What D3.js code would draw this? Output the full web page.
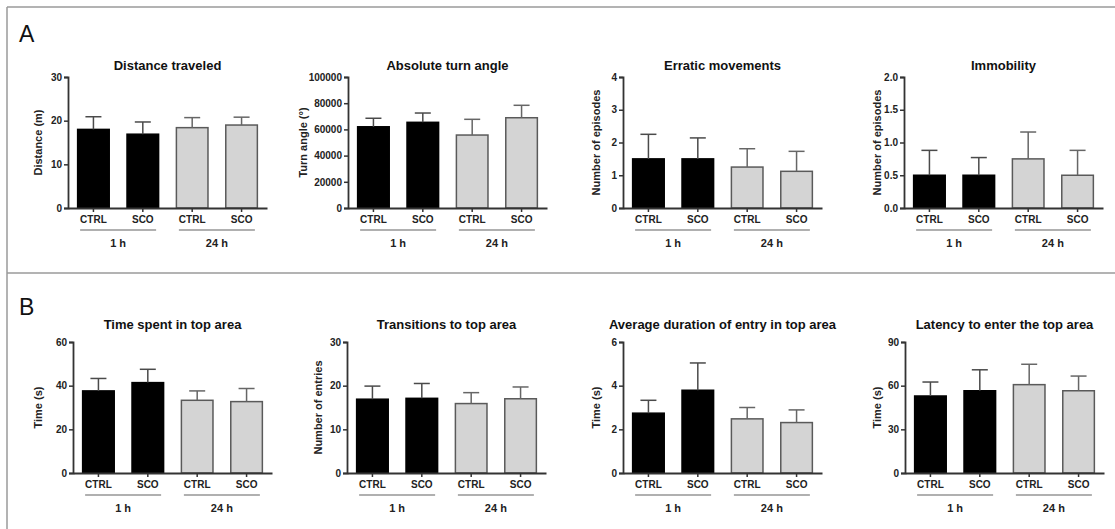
<!DOCTYPE html>
<html>
<head>
<meta charset="utf-8">
<script src="https://cdn.jsdelivr.net/npm/d3@7"></script>
<style>
body { margin: 0; background: #fff; }
svg { display: block; font-family: "Liberation Sans", Arial, sans-serif; }
</style>
</head>
<body>
<svg id="chart" width="1115" height="529"></svg>
<script>
// ---------- data ----------
const categories = ["CTRL", "SCO", "CTRL", "SCO"];
const groups = ["1 h", "24 h"];

const titles = ["Distance traveled", "Absolute turn angle", "Erratic movements", "Immobility",
                "Time spent in top area", "Transitions to top area", "Average duration of entry in top area", "Latency to enter the top area"];
const yLabels = ["Distance (m)", "Turn angle (°)", "Number of episodes", "Number of episodes",
                 "Time (s)", "Number of entries", "Time (s)", "Time (s)"];

const ticksDistance = [0, 10, 20, 30];
const ticksTurn = [0, 20000, 40000, 60000, 80000, 100000];
const ticksErratic = [0, 1, 2, 3, 4];
const ticksImmobility = [0, 0.5, 1.0, 1.5, 2.0];
const ticksTimeTop = [0, 20, 40, 60];
const ticksTransitions = [0, 10, 20, 30];
const ticksDuration = [0, 2, 4, 6];
const ticksLatency = [0, 30, 60, 90];

const meanDistance = [18.0, 16.9, 18.4, 19.0];
const upperDistance = [20.9, 19.7, 20.7, 20.8];
const meanTurn = [62000, 65400, 55700, 68900];
const upperTurn = [68500, 72500, 67700, 78400];
const meanErratic = [1.5, 1.5, 1.25, 1.12];
const upperErratic = [2.25, 2.14, 1.81, 1.73];
const meanImmobility = [0.5, 0.5, 0.75, 0.5];
const upperImmobility = [0.88, 0.77, 1.16, 0.88];
const meanTimeTop = [37.6, 41.4, 33.3, 32.7];
const upperTimeTop = [43.3, 47.5, 37.6, 38.7];
const meanTransitions = [16.9, 17.1, 15.9, 17.0];
const upperTransitions = [19.9, 20.5, 18.4, 19.7];
const meanDuration = [2.74, 3.79, 2.48, 2.31];
const upperDuration = [3.33, 5.04, 3.0, 2.89];
const meanLatency = [52.9, 56.5, 60.7, 56.5];
const upperLatency = [62.5, 70.9, 74.7, 66.6];

const tickSets = [ticksDistance, ticksTurn, ticksErratic, ticksImmobility, ticksTimeTop, ticksTransitions, ticksDuration, ticksLatency];
const meanSets = [meanDistance, meanTurn, meanErratic, meanImmobility, meanTimeTop, meanTransitions, meanDuration, meanLatency];
const upperSets = [upperDistance, upperTurn, upperErratic, upperImmobility, upperTimeTop, upperTransitions, upperDuration, upperLatency];
const tickFormats = [d3.format("d"), d3.format("d"), d3.format("d"), d3.format(".1f"), d3.format("d"), d3.format("d"), d3.format("d"), d3.format("d")];

// ---------- layout ----------
const axisX = [68, 348, 623, 904, 73, 347, 623, 905];
const plotTop = [77, 77, 77, 77, 342, 342, 342, 342];
const plotH = 131;
const plotW = 199;
const yLabelOffset = [30, 45, 27, 27, 35, 29, 27, 28];
const titleGap = [12, 12, 12, 12, 18, 18, 18, 18];

const svg = d3.select("#chart");

// frame lines
const frame = svg.append("g").attr("stroke", "#9a9a9a").attr("stroke-width", 1.5);
frame.append("line").attr("x1", 7).attr("x2", 1115).attr("y1", 7).attr("y2", 7);
frame.append("line").attr("x1", 7).attr("x2", 7).attr("y1", 7).attr("y2", 529);
frame.append("line").attr("x1", 7).attr("x2", 1115).attr("y1", 273).attr("y2", 273);

svg.append("text").attr("x", 19).attr("y", 42).attr("font-size", 23).attr("fill", "#111").text("A");
svg.append("text").attr("x", 19).attr("y", 315).attr("font-size", 23).attr("fill", "#111").text("B");

const barColors = ["#000000", "#000000", "#d4d4d4", "#d4d4d4"];
const barStroke = ["#000000", "#000000", "#5a5a5a", "#5a5a5a"];
const errColors = ["#4a4a4a", "#4a4a4a", "#666666", "#666666"];

for (let p = 0; p < 8; p++) {
  const ticks = tickSets[p];
  const g = svg.append("g").attr("transform", `translate(${axisX[p]},${plotTop[p]})`);
  const y = d3.scaleLinear().domain([0, ticks[ticks.length - 1]]).range([plotH, 0]);
  const x = d3.scaleBand().domain(d3.range(categories.length)).range([0, plotW]).paddingInner(0.33).paddingOuter(0.18);
  const bw = x.bandwidth();
  const means = meanSets[p], uppers = upperSets[p];

  // bars
  g.selectAll("rect.bar").data(means).join("rect")
    .attr("x", (d, i) => x(i) + 0.75)
    .attr("width", bw - 1.5)
    .attr("y", d => y(d))
    .attr("height", d => plotH - y(d))
    .attr("fill", (d, i) => barColors[i])
    .attr("stroke", (d, i) => barStroke[i])
    .attr("stroke-width", 1.5);

  // error bars (upper only)
  means.forEach((m, i) => {
    const cx = x(i) + bw / 2;
    g.append("line").attr("x1", cx).attr("x2", cx).attr("y1", y(m)).attr("y2", y(uppers[i]))
      .attr("stroke", errColors[i]).attr("stroke-width", 1.5);
    g.append("line").attr("x1", cx - 8).attr("x2", cx + 8).attr("y1", y(uppers[i])).attr("y2", y(uppers[i]))
      .attr("stroke", errColors[i]).attr("stroke-width", 1.5);
  });

  // y axis
  const yAxis = g.append("g").call(d3.axisLeft(y).tickValues(ticks).tickFormat(tickFormats[p]).tickSize(4).tickPadding(2));
  yAxis.select(".domain").attr("stroke", "#333").attr("stroke-width", 1.8);
  yAxis.selectAll(".tick line").attr("stroke", "#333").attr("stroke-width", 1.5);
  yAxis.selectAll(".tick text").attr("font-size", 10).attr("font-weight", "bold").attr("fill", "#222")
    .attr("font-family", "Liberation Sans, Arial, sans-serif");

  // x axis
  const xAxis = g.append("g").attr("transform", `translate(0,${plotH})`)
    .call(d3.axisBottom(x).tickFormat(i => categories[i]).tickSize(4).tickPadding(4).tickSizeOuter(0));
  xAxis.select(".domain").attr("stroke", "#333").attr("stroke-width", 1.8);
  xAxis.selectAll(".tick line").attr("stroke", "#333").attr("stroke-width", 1.5);
  xAxis.selectAll(".tick text").attr("font-size", 10).attr("font-weight", "bold").attr("fill", "#222")
    .attr("font-family", "Liberation Sans, Arial, sans-serif");

  // group lines and labels
  groups.forEach((grp, k) => {
    const c0 = x(2 * k) + bw / 2, c1 = x(2 * k + 1) + bw / 2;
    const mid = (c0 + c1) / 2;
    g.append("line").attr("x1", mid - 38).attr("x2", mid + 38).attr("y1", plotH + 22).attr("y2", plotH + 22)
      .attr("stroke", "#b0b0b0").attr("stroke-width", 1.8);
    g.append("text").attr("x", mid).attr("y", plotH + 39).attr("text-anchor", "middle")
      .attr("font-size", 11).attr("font-weight", "bold").attr("fill", "#222").text(grp);
  });

  // title
  g.append("text").attr("x", plotW / 2).attr("y", -titleGap[p] + 5).attr("text-anchor", "middle")
    .attr("font-size", 13).attr("font-weight", "bold").attr("fill", "#111").text(titles[p]);

  // y label
  g.append("text").attr("transform", `translate(${-yLabelOffset[p] + 4},${plotH / 2}) rotate(-90)`)
    .attr("text-anchor", "middle").attr("font-size", 11).attr("font-weight", "bold").attr("fill", "#222")
    .text(yLabels[p]);
}
</script>
</body>
</html>
